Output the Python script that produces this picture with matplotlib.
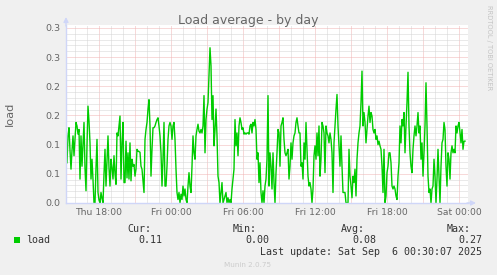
import math
import datetime as dt
import matplotlib
matplotlib.use("Agg")
import matplotlib.pyplot as plt
import matplotlib.dates as mdates
from matplotlib.ticker import MultipleLocator, FuncFormatter
from matplotlib.patches import Rectangle
import pandas as pd

# ---------------- data ----------------
series_name = "load"
start_time = "2025-09-04 15:20"
step = "5min"
load = [
    0.069, 0.115, 0.129, 0.09, 0.058, 0.09, 0.115, 0.081, 0.11, 0.138,
    0.132, 0.118, 0.126, 0.041, 0.115, 0.063, 0.1, 0.138, 0.06, 0.021,
    0.1, 0.166, 0.14, 0.103, 0.041, 0.075, 0.04, 0.0, 0.0, 0.06,
    0.109, 0.018, 0.005, 0.0, 0.018, 0.008, 0.0, 0.05, 0.092, 0.029,
    0.07, 0.115, 0.06, 0.029, 0.075, 0.06, 0.041,
    0.081, 0.05, 0.032, 0.12, 0.115, 0.132, 0.149, 0.041, 0.103, 0.138,
    0.035, 0.035, 0.106, 0.043, 0.086, 0.041, 0.103, 0.038, 0.075, 0.063,
    0.066, 0.046, 0.058, 0.092, 0.089, 0.088, 0.087, 0.063, 0.058, 0.038,
    0.018, 0.109, 0.126, 0.138, 0.161, 0.177, 0.132, 0.046, 0.092, 0.129,
    0.129, 0.132, 0.138, 0.143, 0.146, 0.132, 0.115, 0.086, 0.029, 0.075,
    0.138, 0.029,
    0.029, 0.063, 0.109, 0.132, 0.138, 0.132, 0.109, 0.132, 0.138, 0.109,
    0.058, 0.018, 0.006, 0.018, 0.0, 0.015, 0.006, 0.029, 0.012, 0.024,
    0.006, 0.0, 0.029, 0.052, 0.029, 0.018, 0.063, 0.115, 0.086, 0.075,
    0.115, 0.126, 0.135, 0.123, 0.12, 0.126, 0.12, 0.132, 0.184, 0.086,
    0.143, 0.161, 0.172, 0.218, 0.266, 0.235, 0.143, 0.184, 0.098, 0.126,
    0.161, 0.115,
    0.046, 0.035, 0.0, 0.018, 0.035, 0.0, 0.006, 0.012, 0.018, 0.0,
    0.009, 0.0, 0.006, 0.0, 0.024, 0.041, 0.058, 0.143, 0.098, 0.12,
    0.081, 0.132, 0.146, 0.138, 0.126, 0.129, 0.118, 0.12, 0.118, 0.12,
    0.12, 0.118, 0.132, 0.135, 0.12, 0.138, 0.132, 0.143, 0.126, 0.075,
    0.086, 0.035, 0.069, 0.018, 0.0, 0.021, 0.0, 0.029, 0.041, 0.075,
    0.184, 0.029,
    0.086, 0.063, 0.024, 0.086, 0.035, 0.0, 0.052, 0.086, 0.126, 0.12,
    0.063, 0.132, 0.138, 0.146, 0.109, 0.086, 0.081, 0.086, 0.092, 0.041,
    0.063, 0.103, 0.075, 0.103, 0.115, 0.12, 0.138, 0.146, 0.132, 0.12,
    0.12, 0.063, 0.069, 0.041, 0.103, 0.075, 0.138, 0.092, 0.046, 0.029,
    0.035, 0.024, 0.0, 0.024, 0.081, 0.098, 0.075, 0.12, 0.081, 0.132,
    0.046, 0.075,
    0.138, 0.132, 0.12, 0.052, 0.132, 0.12, 0.115, 0.103, 0.12, 0.109,
    0.086, 0.018, 0.103, 0.132, 0.161, 0.186, 0.132, 0.098, 0.063, 0.115,
    0.063, 0.018, 0.018, 0.018, 0.0, 0.0, 0.0, 0.092, 0.046, 0.029,
    0.009, 0.046, 0.035, 0.058, 0.012, 0.075, 0.103, 0.12, 0.132, 0.172,
    0.226, 0.132, 0.155, 0.138, 0.103, 0.126, 0.149, 0.166, 0.138, 0.155,
    0.149, 0.126,
    0.12, 0.126, 0.109, 0.115, 0.1, 0.106, 0.098, 0.092, 0.063, 0.018,
    0.092, 0.0, 0.012, 0.052, 0.063, 0.086, 0.086, 0.069, 0.029, 0.024,
    0.029, 0.024, 0.012, 0.006, 0.046, 0.069, 0.132, 0.103, 0.143, 0.132,
    0.155, 0.086, 0.132, 0.172, 0.224, 0.132, 0.086, 0.063, 0.052, 0.092,
    0.115, 0.132, 0.115, 0.132, 0.155, 0.12, 0.132, 0.075, 0.103, 0.046,
    0.086, 0.132,
    0.206, 0.132, 0.046, 0.018, 0.024, 0.0, 0.024, 0.029, 0.075, 0.046,
    0.0, 0.041, 0.092, 0.046, 0.0, 0.063, 0.103, 0.109, 0.138, 0.126,
    0.063, 0.029, 0.086, 0.075, 0.041, 0.086, 0.098, 0.086, 0.092, 0.086,
    0.132, 0.12, 0.132, 0.138, 0.12, 0.103, 0.126, 0.092, 0.106, 0.106,
]
stat_labels = ["Cur:", "Min:", "Avg:", "Max:"]
stat_values = [0.11, 0.00, 0.08, 0.27]
title = "Load average - by day"
last_update = "Last update: Sat Sep  6 00:30:07 2025"
view_start = "2025-09-04 15:15"
view_end = "2025-09-06 00:45"
y_max = 0.305

times = pd.date_range(start_time, periods=len(load), freq=step)

# ---------------- style ----------------
W, H = 497, 275
BACK = "#F0F0F0"
FONT = "#666666"
AXIS = "#CFD6F8"
LINE = "#00CC00"
MGRID = "#F0B4B4"
GRID = "#D4D4D4"

fig = plt.figure(figsize=(W / 100, H / 100), dpi=100, facecolor=BACK)

def fx(px):
    return px / W

def fy(py):
    return 1 - py / H

ax_l, ax_r, ax_t, ax_b = 66, 468, 25, 203
ax = fig.add_axes([fx(ax_l), fy(ax_b), (ax_r - ax_l) / W, (ax_b - ax_t) / H])
ax.set_facecolor("white")

ax.plot(times.to_pydatetime(), load, color=LINE, lw=1.0)

ax.set_xlim(mdates.date2num(pd.Timestamp(view_start).to_pydatetime()),
            mdates.date2num(pd.Timestamp(view_end).to_pydatetime()))
ax.set_ylim(0, y_max)

# grid
ax.xaxis.set_major_locator(mdates.HourLocator(byhour=range(0, 24, 3)))
ax.xaxis.set_minor_locator(mdates.HourLocator())

def xfmt(v, pos):
    d = mdates.num2date(v) + dt.timedelta(seconds=30)
    if d.hour % 6 == 0:
        return d.strftime("%a %H:%M")
    return ""

ax.xaxis.set_major_formatter(FuncFormatter(xfmt))
ax.yaxis.set_major_locator(MultipleLocator(0.05))
ax.yaxis.set_minor_locator(MultipleLocator(0.01))

def yfmt(v, pos):
    return "%.1f" % (math.floor(v * 10 + 0.5 + 1e-9) / 10)

ax.yaxis.set_major_formatter(FuncFormatter(yfmt))

dot = (0, (1, 1))
ax.grid(which="minor", color=GRID, lw=0.72, ls=dot)
ax.grid(which="major", color=MGRID, lw=0.72, ls=dot)
ax.set_axisbelow(True)

ax.tick_params(which="both", length=0)
ax.tick_params(axis="y", pad=4.3, labelsize=6.8, labelcolor=FONT)
ax.tick_params(axis="x", pad=3.6, labelsize=6.7, labelcolor=FONT)

for s in ["top", "right"]:
    ax.spines[s].set_visible(False)
for s in ["left", "bottom"]:
    ax.spines[s].set_color(AXIS)
    ax.spines[s].set_linewidth(1.0)

# arrows
ax.annotate("", xy=(fx(66), fy(17)), xytext=(fx(66), fy(26)),
            xycoords="figure fraction", textcoords="figure fraction",
            arrowprops=dict(arrowstyle="-|>", color=AXIS, lw=1.0,
                            mutation_scale=7, shrinkA=0, shrinkB=0))
ax.annotate("", xy=(fx(476), fy(203)), xytext=(fx(467), fy(203)),
            xycoords="figure fraction", textcoords="figure fraction",
            arrowprops=dict(arrowstyle="-|>", color=AXIS, lw=1.0,
                            mutation_scale=7, shrinkA=0, shrinkB=0))

# texts
fig.text(fx(248.5), fy(24), title, ha="center", va="baseline",
         fontsize=9, color=FONT, family="DejaVu Sans")
fig.text(fx(10), fy(114), series_name, rotation=90, ha="center",
         va="center", fontsize=8.2, color=FONT, family="DejaVu Sans")
fig.text(fx(488.5), fy(5), "RRDTOOL / TOBI OETIKER", rotation=270,
         ha="center", va="top", fontsize=4.8, color="#C4C4C4",
         family="DejaVu Sans")

mono = dict(family="DejaVu Sans Mono", fontsize=7.2, color="#333333")
fig.add_artist(Rectangle((fx(14), fy(243)), 6 / W, 6 / H,
                         transform=fig.transFigure, color=LINE, lw=0))
fig.text(fx(26), fy(242.6), series_name, ha="left", va="baseline", **mono)

label_right = [151, 257, 365, 471]
value_right = [162, 269, 376, 482]
for lab, val, lr, vr in zip(stat_labels, stat_values, label_right, value_right):
    fig.text(fx(lr), fy(231.6), lab, ha="right", va="baseline", **mono)
    fig.text(fx(vr), fy(242.6), "%.2f" % val, ha="right", va="baseline", **mono)

fig.text(fx(482), fy(254.6), last_update, ha="right", va="baseline", **mono)
fig.text(fx(247.5), fy(267), "Munin 2.0.75", ha="center", va="baseline",
         fontsize=5.2, color="#CCCCCC", family="DejaVu Sans")

fig.savefig("out.png", dpi=100, facecolor=BACK)
